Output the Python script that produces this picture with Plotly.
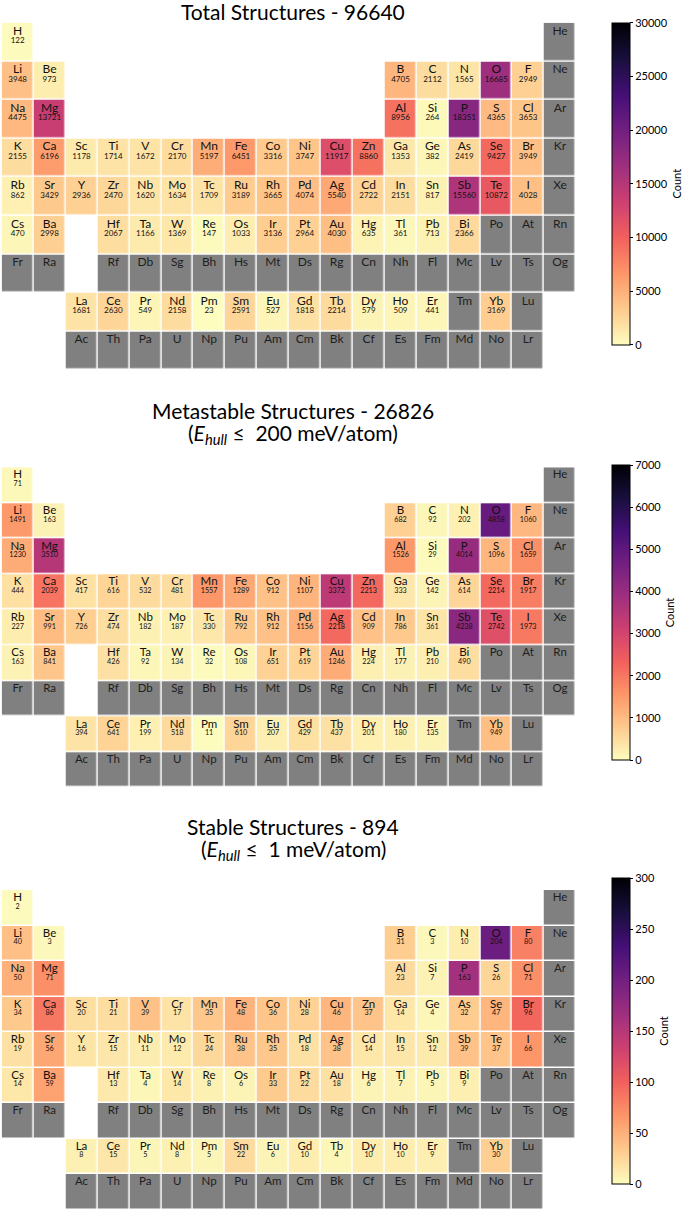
import numpy as np
import plotly.graph_objects as go

# ---------------- data ----------------
TABLE_ROWS = [
    "H . . . . . . . . . . . . . . . . He",
    "Li Be . . . . . . . . . . B C N O F Ne",
    "Na Mg . . . . . . . . . . Al Si P S Cl Ar",
    "K Ca Sc Ti V Cr Mn Fe Co Ni Cu Zn Ga Ge As Se Br Kr",
    "Rb Sr Y Zr Nb Mo Tc Ru Rh Pd Ag Cd In Sn Sb Te I Xe",
    "Cs Ba . Hf Ta W Re Os Ir Pt Au Hg Tl Pb Bi Po At Rn",
    "Fr Ra . Rf Db Sg Bh Hs Mt Ds Rg Cn Nh Fl Mc Lv Ts Og",
    ". . La Ce Pr Nd Pm Sm Eu Gd Tb Dy Ho Er Tm Yb Lu .",
    ". . Ac Th Pa U Np Pu Am Cm Bk Cf Es Fm Md No Lr .",
]

DATA_ELEMENTS = [
    "H",
    "Li", "Be", "B", "C", "N", "O", "F",
    "Na", "Mg", "Al", "Si", "P", "S", "Cl",
    "K", "Ca", "Sc", "Ti", "V", "Cr", "Mn", "Fe", "Co", "Ni", "Cu", "Zn",
    "Ga", "Ge", "As", "Se", "Br",
    "Rb", "Sr", "Y", "Zr", "Nb", "Mo", "Tc", "Ru", "Rh", "Pd", "Ag", "Cd",
    "In", "Sn", "Sb", "Te", "I",
    "Cs", "Ba",
    "La", "Ce", "Pr", "Nd", "Pm", "Sm", "Eu", "Gd", "Tb", "Dy", "Ho", "Er",
    "Yb",
    "Hf", "Ta", "W", "Re", "Os", "Ir", "Pt", "Au", "Hg", "Tl", "Pb", "Bi",
]

TOTAL_COUNTS = [
    122,
    3948, 973, 4705, 2112, 1565, 16685, 2949,
    4475, 13721, 8956, 264, 18351, 4365, 3653,
    2155, 6196, 1178, 1714, 1672, 2170, 5197, 6451, 3316, 3747, 11917, 8860,
    1353, 382, 2419, 9427, 3949,
    862, 3429, 2936, 2470, 1620, 1634, 1709, 3189, 3665, 4074, 5540, 2722,
    2151, 817, 15560, 10872, 4028,
    470, 2998,
    1681, 2630, 549, 2158, 23, 2591, 527, 1818, 2214, 579, 509, 441,
    3169,
    2067, 1166, 1369, 147, 1033, 3136, 2964, 4030, 635, 361, 713, 2366,
]

METASTABLE_COUNTS = [
    71,
    1491, 163, 682, 92, 202, 4858, 1060,
    1230, 3510, 1526, 29, 4014, 1096, 1659,
    444, 2039, 417, 616, 532, 481, 1557, 1289, 912, 1107, 3372, 2213,
    333, 142, 614, 2214, 1917,
    227, 991, 726, 474, 182, 187, 330, 792, 912, 1156, 2218, 909,
    786, 361, 4238, 2742, 1973,
    163, 841,
    394, 641, 199, 518, 11, 610, 207, 429, 437, 201, 180, 135,
    949,
    426, 92, 134, 32, 108, 651, 619, 1246, 224, 177, 210, 490,
]

STABLE_COUNTS = [
    2,
    40, 3, 31, 3, 10, 204, 80,
    50, 71, 23, 7, 163, 26, 71,
    34, 86, 20, 21, 39, 17, 35, 48, 36, 28, 46, 37,
    14, 4, 32, 47, 96,
    19, 56, 16, 15, 11, 12, 24, 38, 35, 18, 38, 14,
    15, 12, 39, 37, 66,
    14, 59,
    8, 15, 5, 8, 5, 22, 6, 10, 4, 10, 10, 9,
    30,
    13, 4, 14, 8, 6, 33, 22, 18, 6, 7, 5, 9,
]

TITLES_LINE1 = ["Total Structures - 96640", "Metastable Structures - 26826", "Stable Structures - 894"]
TITLES_LINE2 = ["", "(<i>E<sub>hull</sub></i> ≤  200 meV/atom)", "(<i>E<sub>hull</sub></i> ≤  1 meV/atom)"]
CMAX = [30000, 7000, 300]
TICK_STEP = [5000, 1000, 50]

# ---------------- styling / layout ----------------
W, H = 685, 1215
FONT = "Lato"
GRAY = "#808080"
GRID = [r.split() for r in TABLE_ROWS]
NROW, NCOL = len(GRID), len(GRID[0])

TABLE_LEFT, TABLE_RIGHT = 1.7, 576.0
PANELS = [
    dict(top=22.7, pitch=38.6, cb_top=22.7, cb_bot=345.0,
         title_y=[12.0], sym_size=12, val_size=8),
    dict(top=467.3, pitch=35.6, cb_top=465.0, cb_bot=760.0,
         title_y=[410.0, 434.0], sym_size=11.5, val_size=7.2),
    dict(top=890.0, pitch=35.5, cb_top=878.0, cb_bot=1184.0,
         title_y=[826.0, 850.0], sym_size=11.5, val_size=7.2),
]
DATASETS = [TOTAL_COUNTS, METASTABLE_COUNTS, STABLE_COUNTS]

fig = go.Figure()
annotations = []
layout_axes = {}

for k, (vals, P) in enumerate(zip(DATASETS, PANELS)):
    idx = "" if k == 0 else str(k + 1)
    lookup = dict(zip(DATA_ELEMENTS, vals))
    z = np.full((NROW, NCOL), np.nan)
    zg = np.full((NROW, NCOL), np.nan)
    sx, sy, st = [], [], []
    gx, gy, gt = [], [], []
    vx, vy, vt = [], [], []
    for r, row in enumerate(GRID):
        for c, sym in enumerate(row):
            if sym == ".":
                continue
            if sym in lookup:
                z[r, c] = lookup[sym]
                sx.append(c + 1); sy.append(r + 1 - 0.27); st.append(sym)
                vx.append(c + 1); vy.append(r + 1 - 0.02); vt.append(str(lookup[sym]))
            else:
                zg[r, c] = 1
                gx.append(c + 1); gy.append(r + 1 - 0.27); gt.append(sym)

    xs = list(range(1, NCOL + 1))
    ys = list(range(1, NROW + 1))
    fig.add_trace(go.Heatmap(z=z, x=xs, y=ys, coloraxis="coloraxis" + idx,
                             xgap=1.5, ygap=1.5, hoverinfo="skip",
                             xaxis="x" + idx, yaxis="y" + idx))
    fig.add_trace(go.Heatmap(z=zg, x=xs, y=ys, colorscale=[[0, GRAY], [1, GRAY]],
                             showscale=False, xgap=1.5, ygap=1.5, hoverinfo="skip",
                             xaxis="x" + idx, yaxis="y" + idx))
    fig.add_trace(go.Scatter(x=sx, y=sy, text=st, mode="text", hoverinfo="skip",
                             textfont=dict(family=FONT, size=P["sym_size"], color="#111111"),
                             xaxis="x" + idx, yaxis="y" + idx, showlegend=False))
    fig.add_trace(go.Scatter(x=gx, y=gy, text=gt, mode="text", hoverinfo="skip",
                             textfont=dict(family=FONT, size=P["sym_size"], color="#1e1e1e"),
                             xaxis="x" + idx, yaxis="y" + idx, showlegend=False))
    fig.add_trace(go.Scatter(x=vx, y=vy, text=vt, mode="text", hoverinfo="skip",
                             textfont=dict(family=FONT, size=P["val_size"], color="#111111"),
                             xaxis="x" + idx, yaxis="y" + idx, showlegend=False))

    top = P["top"]
    bot = top + NROW * P["pitch"]
    layout_axes["xaxis" + idx] = dict(domain=[TABLE_LEFT / W, TABLE_RIGHT / W],
                                      range=[0.5, NCOL + 0.5], visible=False,
                                      anchor="y" + idx, fixedrange=True)
    layout_axes["yaxis" + idx] = dict(domain=[1 - bot / H, 1 - top / H],
                                      range=[NROW + 0.5, 0.5], visible=False,
                                      anchor="x" + idx, fixedrange=True)
    layout_axes["coloraxis" + idx] = dict(
        colorscale="Magma", reversescale=True, cmin=0, cmax=CMAX[k],
        colorbar=dict(
            x=611.7 / W, xanchor="left", xpad=0, ypad=0,
            y=1 - P["cb_top"] / H, yanchor="top",
            len=P["cb_bot"] - P["cb_top"], lenmode="pixels",
            thickness=18, outlinewidth=1, outlinecolor="black",
            tickvals=list(range(0, CMAX[k] + 1, TICK_STEP[k])),
            tickformat="d",
            ticks="outside", ticklen=3, tickcolor="black",
            tickfont=dict(family=FONT, size=11, color="black"),
            title=dict(text="Count", side="right",
                       font=dict(family=FONT, size=11, color="black")),
        ),
    )
    lines = [TITLES_LINE1[k]] + ([TITLES_LINE2[k]] if TITLES_LINE2[k] else [])
    for line, ty in zip(lines, P["title_y"]):
        annotations.append(dict(text=line, x=293 / W, y=1 - ty / H, xref="paper", yref="paper",
                                xanchor="center", yanchor="middle", showarrow=False,
                                font=dict(family=FONT, size=21, color="black")))

fig.update_layout(
    width=W, height=H, margin=dict(l=0, r=0, t=0, b=0),
    paper_bgcolor="white", plot_bgcolor="white",
    showlegend=False, annotations=annotations, **layout_axes,
)

fig.write_html("out.html", config={"displayModeBar": False},
               post_script="document.body.style.margin='0px';")
